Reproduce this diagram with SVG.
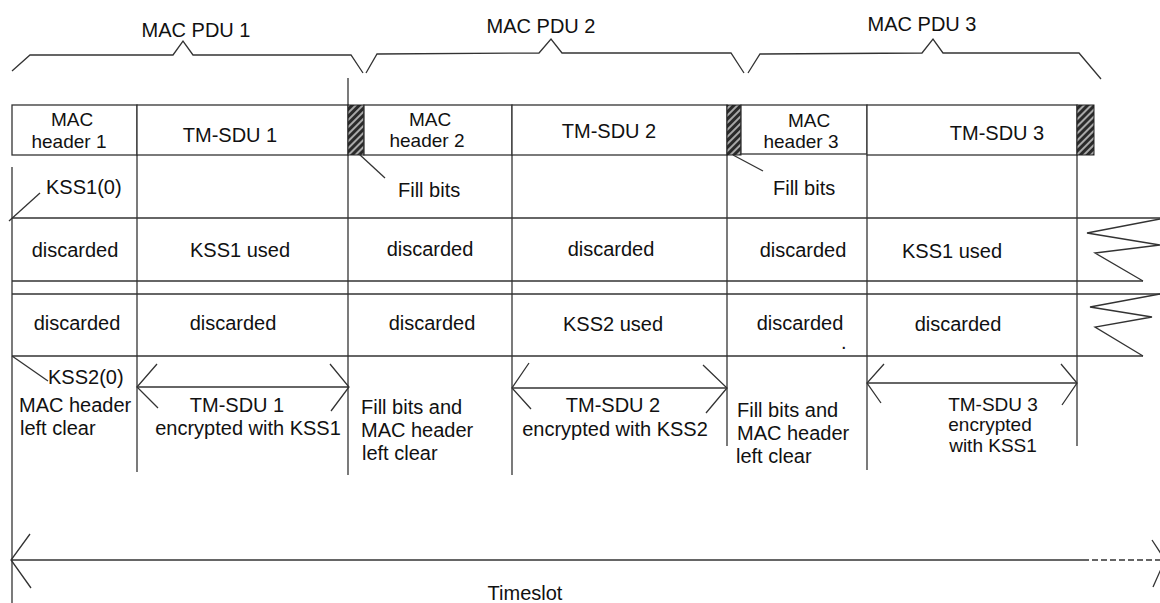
<svg xmlns="http://www.w3.org/2000/svg" width="1160" height="603" viewBox="0 0 1160 603">
<defs>
<pattern id="hatch" patternUnits="userSpaceOnUse" width="5" height="5" patternTransform="rotate(45)">
<rect width="5" height="5" fill="#2a2a2a"/><rect width="2" height="5" fill="#a8a8a8"/>
</pattern>
<style>
text{font-family:"Liberation Sans",Arial,sans-serif;font-size:20px;fill:#111}
.c{text-anchor:middle}
.t{font-size:19px}
.ln{stroke:#333;stroke-width:1.3;fill:none}
.box{stroke:#333;stroke-width:1.3;fill:#fff}
.fill{stroke:#222;stroke-width:1;fill:url(#hatch)}
</style>
</defs>
<rect width="1160" height="603" fill="#fff"/>

<g id="pdu-braces">
<g id="pdu1"><path class="ln" d="M12,71 L30,55 L173,55 L183,41 L193,55 L351,55 L363,73"/><text class="c" x="196" y="37">MAC PDU 1</text></g>
<g id="pdu2"><path class="ln" d="M366,73 L377,54 L539,53 L551,39 L562,53 L731,53 L744,73"/><text class="c" x="541" y="33">MAC PDU 2</text></g>
<g id="pdu3"><path class="ln" d="M748,73 L760,54 L922,53 L933,39 L943,53 L1079,53 L1101,79"/><text class="c" x="922" y="31">MAC PDU 3</text></g>
</g>

<g id="grid">
<line class="ln" x1="12" y1="167" x2="12" y2="603"/>
<line class="ln" x1="137" y1="155" x2="137" y2="472"/>
<line class="ln" x1="348" y1="78" x2="348" y2="105"/>
<line class="ln" x1="348" y1="155" x2="348" y2="475"/>
<line class="ln" x1="512" y1="155" x2="512" y2="475"/>
<line class="ln" x1="727" y1="155" x2="727" y2="446"/>
<line class="ln" x1="867" y1="155" x2="867" y2="470"/>
<line class="ln" x1="1077" y1="155" x2="1077" y2="446"/>
<line class="ln" x1="12" y1="218" x2="1160" y2="218"/>
<line class="ln" x1="12" y1="281" x2="1143" y2="281"/>
<line class="ln" x1="12" y1="294" x2="1160" y2="294"/>
<line class="ln" x1="12" y1="356" x2="1143" y2="356"/>
<polyline class="ln" points="1160,219 1087,233 1160,245 1095,253 1143,281"/>
<polyline class="ln" points="1160,294 1090,307 1152,317 1095,327 1143,356"/>
</g>

<g id="mac-header-1"><rect class="box" x="12" y="105" width="125" height="50"/><text class="c t" x="72" y="126">MAC</text><text class="c t" x="69" y="148">header 1</text></g>
<g id="tm-sdu-1"><rect class="box" x="137" y="105" width="211" height="50"/><text class="c" x="230" y="142">TM-SDU 1</text></g>
<g id="fill-1"><rect class="fill" x="348" y="105" width="16" height="50"/></g>
<g id="mac-header-2"><rect class="box" x="364" y="105" width="148" height="50"/><text class="c t" x="430" y="126">MAC</text><text class="c t" x="427" y="147">header 2</text></g>
<g id="tm-sdu-2"><rect class="box" x="512" y="105" width="215" height="50"/><text class="c" x="609" y="138">TM-SDU 2</text></g>
<g id="fill-2"><rect class="fill" x="727" y="105" width="14" height="50"/></g>
<g id="mac-header-3"><rect class="box" x="741" y="105" width="126" height="49"/><text class="c t" x="809" y="127">MAC</text><text class="c t" x="801" y="148">header 3</text></g>
<g id="tm-sdu-3"><rect class="box" x="867" y="105" width="210" height="50"/><text class="c" x="997" y="140">TM-SDU 3</text></g>
<g id="fill-3"><rect class="fill" x="1077" y="105" width="17" height="50"/></g>

<g id="label-kss1-0"><text x="46" y="194">KSS1(0)</text></g>
<g id="label-fill-bits-1"><text x="398" y="197">Fill bits</text></g>
<g id="label-fill-bits-2"><text x="773" y="195">Fill bits</text></g>
<g id="label-kss2-0"><text x="48" y="384">KSS2(0)</text></g>

<g id="kss1-row">
<text class="c" x="75" y="257">discarded</text>
<text class="c" x="240" y="257">KSS1 used</text>
<text class="c" x="430" y="256">discarded</text>
<text class="c" x="611" y="256">discarded</text>
<text class="c" x="803" y="257">discarded</text>
<text class="c" x="952" y="258">KSS1 used</text>
</g>
<g id="kss2-row">
<text class="c" x="77" y="330">discarded</text>
<text class="c" x="233" y="330">discarded</text>
<text class="c" x="432" y="330">discarded</text>
<text class="c" x="613" y="331">KSS2 used</text>
<text class="c" x="800" y="330">discarded</text>
<text x="841" y="349">.</text>
<text class="c" x="958" y="331">discarded</text>
</g>

<g id="clear-1"><text x="19" y="412">MAC header</text><text x="20" y="435">left clear</text></g>
<g id="enc-1"><text class="c" x="237" y="412">TM-SDU 1</text><text class="c" x="248" y="435">encrypted with KSS1</text></g>
<g id="clear-2"><text x="361" y="414">Fill bits and</text><text x="361" y="437">MAC header</text><text x="362" y="460">left clear</text></g>
<g id="enc-2"><text class="c" x="613" y="412">TM-SDU 2</text><text class="c" x="615" y="436">encrypted with KSS2</text></g>
<g id="clear-3"><text x="737" y="417">Fill bits and</text><text x="737" y="440">MAC header</text><text x="736" y="463">left clear</text></g>
<g id="enc-3"><text class="c t" x="993" y="411">TM-SDU 3</text><text class="c t" x="990" y="431">encrypted</text><text class="c t" x="993" y="452">with KSS1</text></g>

<g id="timeslot"><text class="c" x="525" y="600">Timeslot</text></g>

<g id="connectors">
<line class="ln" x1="40" y1="193" x2="9" y2="221"/>
<line class="ln" x1="12" y1="356" x2="48" y2="381"/>
<line class="ln" x1="359" y1="154" x2="385" y2="178"/>
<line class="ln" x1="733" y1="155" x2="763" y2="171" stroke-width="2"/>
<line class="ln" x1="137" y1="387" x2="349" y2="387"/>
<polyline class="ln" points="157,364 137,387 158,408"/>
<polyline class="ln" points="330,364 349,387 331,411"/>
<line class="ln" x1="512" y1="388" x2="727" y2="388"/>
<polyline class="ln" points="529,363 512,388 531,409"/>
<polyline class="ln" points="703,365 727,388 706,413"/>
<line class="ln" x1="867" y1="383" x2="1077" y2="383"/>
<polyline class="ln" points="884,364 867,383 881,403"/>
<polyline class="ln" points="1061,364 1077,383 1062,405"/>
<line class="ln" x1="12" y1="560" x2="1083" y2="560"/>
<line class="ln" x1="1083" y1="560" x2="1160" y2="560" stroke-width="2" stroke-dasharray="6,3"/>
<polyline class="ln" points="30,534 11,560 31,588"/>
<polyline class="ln" points="1152,540 1165,560 1153,587"/>
</g>
</svg>
